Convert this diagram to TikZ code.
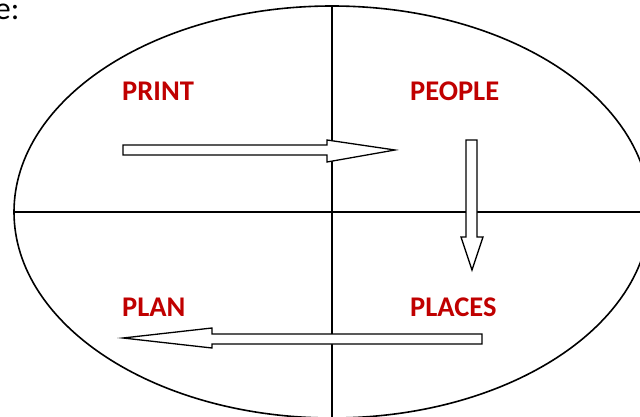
\documentclass[tikz,border=0pt]{standalone}
\usepackage{fontspec}
\setmainfont{Carlito}
\definecolor{labelred}{RGB}{192,0,0}
\begin{document}
\begin{tikzpicture}[x=1pt,y=-1pt,
  axis/.style={line width=1.6pt,black},
  blockarrow/.style={draw=black,fill=white,line width=1.3pt,line join=miter},
  lbl/.style={anchor=base west,inner sep=0pt,text=labelred,font=\fontsize{28.5}{32}\selectfont\bfseries}]
\useasboundingbox (0,0) rectangle (640,417);
\fill[white] (0,0) rectangle (640,417);
% partial caption
\node[anchor=base east,inner sep=0pt,font=\fontsize{32}{36}\selectfont] (cap) at (19.5,20) {e:};
% ellipse and axes
\draw[axis] (332,212) ellipse [x radius=318, y radius=206];
\coordinate (vtop) at (332,6);
\coordinate (vbot) at (332,418);
\coordinate (hl) at (14,212);
\coordinate (hr) at (641,212);
\draw[axis] (vtop) -- (vbot);
\draw[axis] (hl) -- (hr);
% block arrows
\draw[blockarrow] (123,145) -- (327,145) -- (327,140) -- (395,150) -- (327,162) -- (327,155) -- (123,155) -- cycle;
\draw[blockarrow] (466,140) -- (477,140) -- (477,237) -- (483,237) -- (472,270) -- (461,237) -- (466,237) -- cycle;
\draw[blockarrow] (482,334) -- (212,334) -- (212,328) -- (123,338) -- (212,348) -- (212,344) -- (482,344) -- cycle;
% labels
\node[lbl] (print) at (122,101) {PRINT};
\node[lbl] (people) at (410,101) {PEOPLE};
\node[lbl] (plan) at (122,316) {PLAN};
\node[lbl] (places) at (410,316) {PLACES};
\end{tikzpicture}
\end{document}
